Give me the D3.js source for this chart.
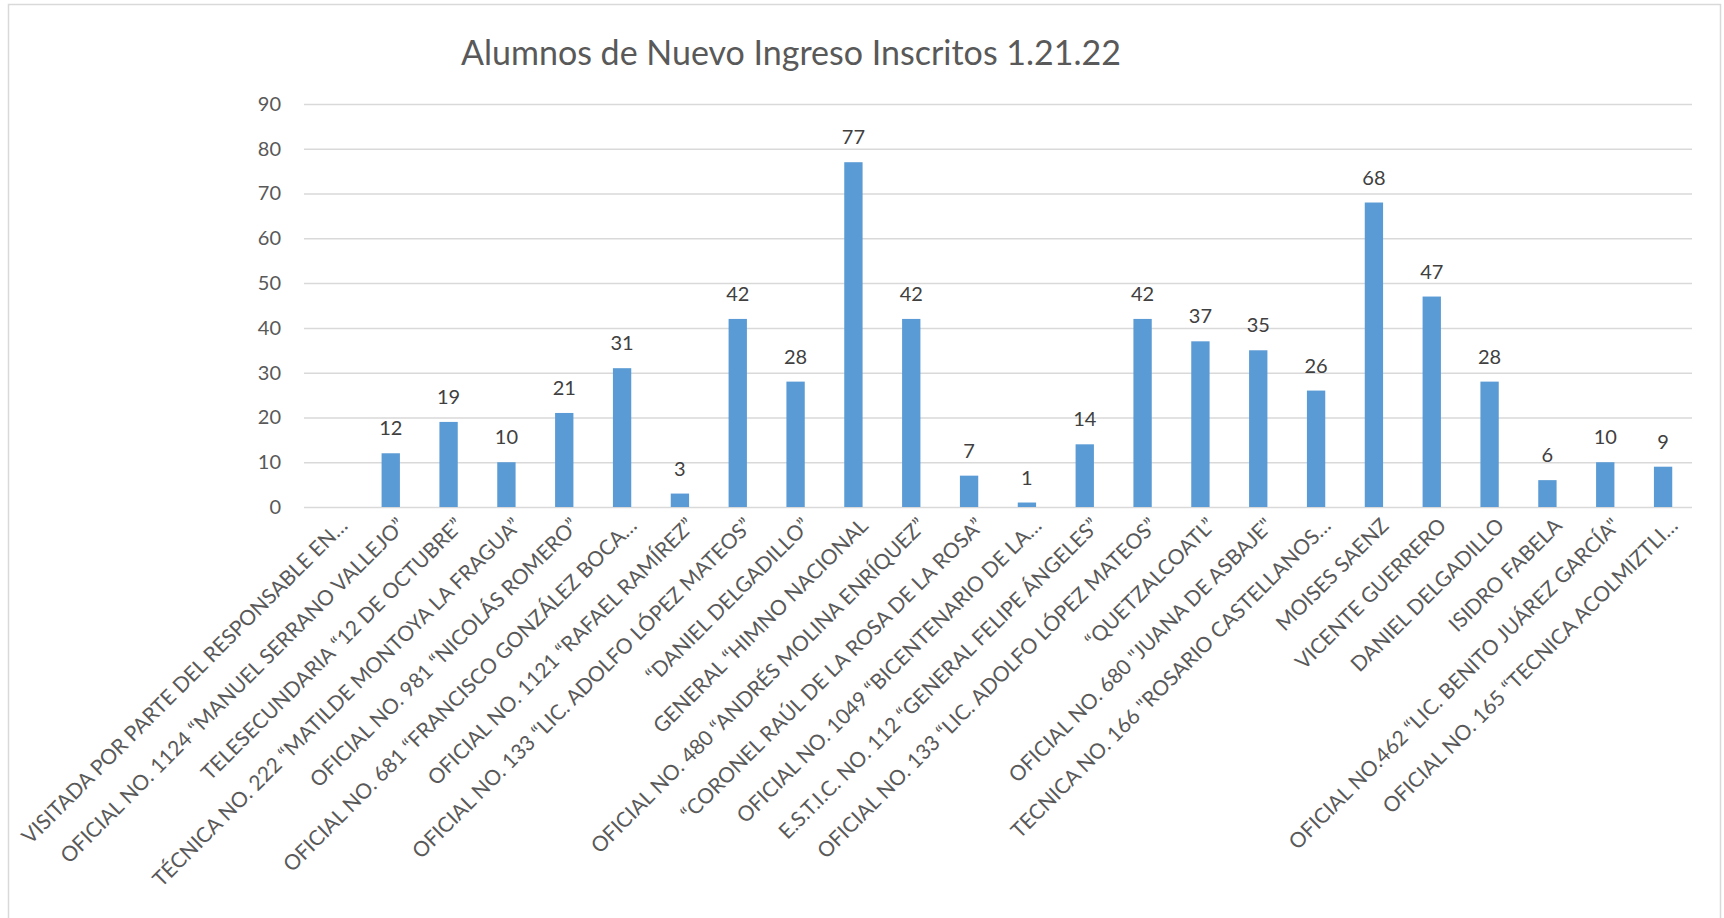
<!DOCTYPE html>
<html><head><meta charset="utf-8">
<script src="https://cdn.jsdelivr.net/npm/d3@7"></script>
<style>
body{margin:0;background:#fff}
svg{display:block}
text{font-family:Lato,"Open Sans",sans-serif}
</style>
</head><body>
<svg id="c" width="1724" height="918"></svg>
<script>
const chartTitle = "Alumnos de Nuevo Ingreso Inscritos 1.21.22";
const categories = [
  "VISITADA POR PARTE DEL RESPONSABLE EN…",
  "OFICIAL NO. 1124 “MANUEL SERRANO VALLEJO”",
  "TELESECUNDARIA “12 DE OCTUBRE”",
  "TÉCNICA NO. 222 “MATILDE MONTOYA LA FRAGUA”",
  "OFICIAL NO. 981 “NICOLÁS ROMERO”",
  "OFICIAL NO. 681 “FRANCISCO GONZÁLEZ BOCA…",
  "OFICIAL NO. 1121 “RAFAEL RAMÍREZ”",
  "OFICIAL NO. 133 “LIC. ADOLFO LÓPEZ MATEOS”",
  "“DANIEL DELGADILLO”",
  "GENERAL “HIMNO NACIONAL",
  "OFICIAL NO. 480 “ANDRÉS MOLINA ENRÍQUEZ”",
  "“CORONEL RAÚL DE LA ROSA DE LA ROSA”",
  "OFICIAL NO. 1049 “BICENTENARIO DE LA…",
  "E.S.T.I.C. NO. 112 “GENERAL FELIPE ÁNGELES”",
  "OFICIAL NO. 133 “LIC. ADOLFO LÓPEZ MATEOS”",
  "“QUETZALCOATL”",
  "OFICIAL NO. 680 \"JUANA DE ASBAJE\"",
  "TECNICA NO. 166 \"ROSARIO CASTELLANOS…",
  "MOISES SAENZ",
  "VICENTE GUERRERO",
  "DANIEL DELGADILLO",
  "ISIDRO FABELA",
  "OFICIAL NO.462 “LIC. BENITO JUÁREZ GARCÍA\"",
  "OFICIAL NO. 165 “TECNICA ACOLMIZTLI…"
];
const values = [null, 12, 19, 10, 21, 31, 3, 42, 28, 77, 42, 7, 1, 14, 42, 37, 35, 26, 68, 47, 28, 6, 10, 9];
const yTicks = [0, 10, 20, 30, 40, 50, 60, 70, 80, 90];

const svg = d3.select("#c");
const plotLeft = 304, plotRight = 1692, plotTop = 104, plotBottom = 507;

// chart border
svg.append("rect").attr("x", 8.5).attr("y", 4.5).attr("width", 1712).attr("height", 940)
  .attr("fill", "#fff").attr("stroke", "#d9d9d9").attr("stroke-width", 1.5);

const x = d3.scaleBand().domain(d3.range(categories.length)).range([plotLeft, plotRight]).padding(0);
const y = d3.scaleLinear().domain([0, 90]).range([plotBottom, plotTop]);

// title
svg.append("text").attr("x", 791).attr("y", 65).attr("text-anchor", "middle")
  .attr("fill", "#595959").style("font-size", "34px").text(chartTitle);

// y axis with gridlines
const yAxis = svg.append("g").attr("transform", `translate(${plotLeft},0)`)
  .call(d3.axisLeft(y).tickValues(yTicks).tickSize(-(plotRight - plotLeft)).tickPadding(23));
yAxis.select(".domain").remove();
yAxis.selectAll(".tick line").attr("stroke", "#d9d9d9").attr("stroke-width", 1.5);
yAxis.selectAll(".tick text").attr("fill", "#595959").style("font-size", "20px")
  .style("font-family", "Lato");

// bars
const bw = x.bandwidth() * 0.317;
const bars = categories.map((c, i) => ({c, i, v: values[i]})).filter(d => d.v != null);
svg.append("g").selectAll("rect").data(bars).join("rect")
  .attr("x", d => x(d.i) + x.bandwidth() / 2 - bw / 2)
  .attr("y", d => y(d.v))
  .attr("width", bw)
  .attr("height", d => y(0) - y(d.v))
  .attr("fill", "#5b9bd5");

// data labels
svg.append("g").selectAll("text").data(bars).join("text")
  .attr("x", d => x(d.i) + x.bandwidth() / 2)
  .attr("y", d => y(d.v) - 18)
  .attr("text-anchor", "middle")
  .attr("fill", "#404040")
  .style("font-size", "20px")
  .text(d => d.v);

// x axis labels
const xAxis = svg.append("g").attr("transform", `translate(0,${plotBottom})`)
  .call(d3.axisBottom(x).tickSize(0).tickFormat(i => categories[i]));
xAxis.select(".domain").remove();
xAxis.selectAll(".tick text")
  .attr("x", 0).attr("y", 0).attr("dy", 0)
  .attr("text-anchor", "end")
  .attr("transform", "translate(16,20) rotate(-45)")
  .attr("fill", "#595959")
  .style("font-size", "21px")
  .style("font-family", "Lato");
</script>
</body></html>
